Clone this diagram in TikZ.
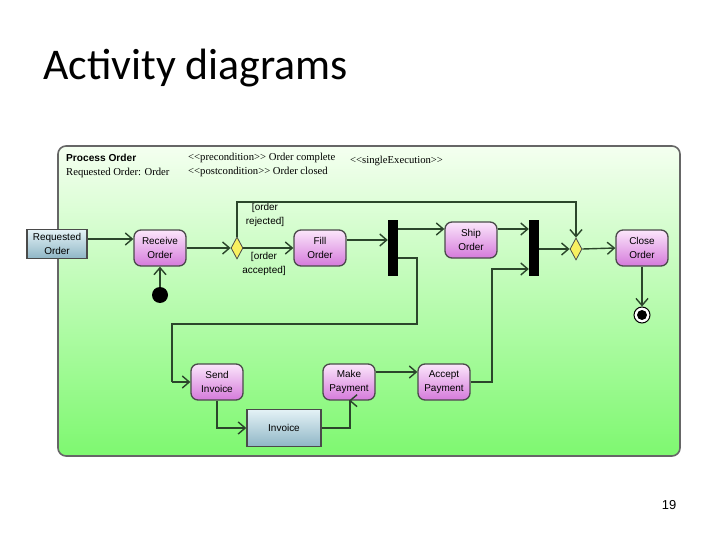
\documentclass[tikz,border=0pt]{standalone}
\usepackage{fontspec}
\setmainfont{Liberation Sans}
\newfontfamily\titlefont{Carlito}
\newfontfamily\hdrserif{Liberation Serif}
\usetikzlibrary{arrows.meta,shapes.geometric}
\definecolor{linec}{HTML}{2B462B}
\definecolor{nodeb}{HTML}{4A4A4A}
\definecolor{pinktop}{HTML}{FBE6FB}
\definecolor{pinkbot}{HTML}{D57ADB}
\definecolor{objtop}{HTML}{E4F2F6}
\definecolor{objbot}{HTML}{8FB6C6}
\definecolor{paneltop}{HTML}{F4FFF0}
\definecolor{panelbot}{HTML}{7EF870}
\definecolor{dyellow}{HTML}{F8F060}
\tikzset{
  act/.style={rounded corners=7bp, draw=nodeb, line width=1.3bp, top color=pinktop, bottom color=pinkbot,
    minimum width=52bp, minimum height=36bp, align=center, inner sep=1bp,
    font=\fontsize{10}{14}\selectfont},
  obj/.style={draw=nodeb, line width=1.5bp, top color=objtop, bottom color=objbot, align=center,
    inner sep=1bp, font=\fontsize{10}{14}\selectfont},
  bar/.style={fill=black, minimum width=10bp, minimum height=56bp, inner sep=0bp},
  dec/.style={diamond, draw=nodeb, line width=0.8bp, fill=dyellow, minimum width=12bp, minimum height=22bp, inner sep=0bp},
  flow/.style={draw=linec, line width=1.4bp, -{Straight Barb[length=7bp,width=12bp]}},
  guard/.style={align=center, font=\fontsize{10}{14}\selectfont, inner sep=0bp},
  hdr/.style={anchor=west, inner sep=0bp, font=\hdrserif\fontsize{10.7}{12}\selectfont},
}
\begin{document}
\begin{tikzpicture}[x=1bp,y=-1bp]
\useasboundingbox (0,0) rectangle (720,540);
\fill[white] (0,0) rectangle (720,540);
% title
\node[anchor=west, inner sep=0bp, font=\titlefont\fontsize{44}{48}\selectfont] (title) at (43,68) {Activity diagrams};
% panel
\draw[rounded corners=8bp, draw=gray!80!black, line width=1.6bp, top color=paneltop, bottom color=panelbot]
  (58,146) rectangle (680,456);
% header
\node[anchor=west, inner sep=0bp, font=\bfseries\fontsize{10.2}{12}\selectfont] (pname) at (66,158) {Process Order};
\node[hdr] (param) at (66,173) {Requested Order: Order};
\node[hdr] (pre) at (188,158) {<{}<precondition>{}> Order complete};
\node[hdr] (post) at (188,172) {<{}<postcondition>{}> Order closed};
\node[hdr] (single) at (350,161) {<{}<singleExecution>{}>};
% nodes
\node[obj, minimum width=60bp, minimum height=29bp] (req) at (57,244) {Requested\\Order};
\node[act] (recv) at (160,248) {Receive\\Order};
\node[circle, fill=black, minimum size=16bp, inner sep=0bp] (init) at (160,295) {};
\node[dec] (d1) at (237,248) {};
\node[act] (fill) at (320,248) {Fill\\Order};
\node[bar] (fork1) at (393,248) {};
\node[act] (ship) at (471,240) {Ship\\Order};
\node[bar] (fork2) at (534,248) {};
\node[dec] (d2) at (576,249) {};
\node[act] (close) at (642,248) {Close\\Order};
\node[circle, draw=black, fill=white, line width=1bp, minimum size=16bp, inner sep=0bp] (final) at (642,315) {};
\node[circle, fill=black, minimum size=10bp, inner sep=0bp] (finaldot) at (642,315) {};
\node[act] (send) at (217,382) {Send\\Invoice};
\node[act] (make) at (349,382) {Make\\Payment};
\node[act] (accept) at (444,382) {Accept\\Payment};
\node[obj, minimum width=74bp, minimum height=37bp] (inv) at (284,428) {Invoice};
\node[guard] (grej) at (265,215) {[order\\rejected]};
\node[guard] (gacc) at (264,264) {[order\\accepted]};
\node[inner sep=0bp, font=\fontsize{13}{15}\selectfont] (pageno) at (669,505) {19};
% coordinates
\coordinate (rj) at (0,202);
\coordinate (loopy) at (0,324);
\coordinate (loopx1) at (417,0);
\coordinate (loopx2) at (172,0);
\coordinate (accx) at (492,0);
\coordinate (invx) at (350,0);
% connectors
\draw[flow] ([yshift=5bp]req.east) -- ([yshift=5bp]req.east -| recv.west);
\draw[flow] (init) -- (recv.south);
\draw[flow] (recv.east) -- (d1.west);
\draw[flow] (d1.east) -- (fill.west);
\draw[flow] (d1.north) -- (d1.north |- rj) -- (d2.north |- rj) -- (d2.north);
\draw[flow] ([yshift=8bp]fill.east) -- ([yshift=8bp]fill.east -| fork1.west);
\draw[flow] ([yshift=11bp]ship.west -| fork1.east) -- ([yshift=11bp]ship.west);
\draw[draw=linec, line width=1.4bp] ([yshift=-10bp]fork1.east) -- ([yshift=-10bp]fork1.east -| loopx1) -- (loopx1 |- loopy) -- (loopx2 |- loopy) -- (loopx2 |- send.west);
\draw[flow] (loopx2 |- send.west) -- (send.west);
\draw[flow] ([yshift=11bp]ship.east) -- ([yshift=11bp]ship.east -| fork2.west);
\draw[flow] (accept.east) -- (accept.east -| accx) -- ([yshift=-21bp]accx |- fork2.west) -- ([yshift=-21bp]fork2.west);
\draw[flow] (fork2.east |- d2.west) -- (d2.west);
\draw[flow] (d2.east) -- (close.west);
\draw[flow] (close.south) -- (final.north);
\draw[flow] (send.south) -- (send.south |- inv.west) -- (inv.west);
\draw[flow] (inv.east) -- (inv.east -| invx) -- (invx |- make.south) -- (make.south);
\draw[flow] ([yshift=10bp]make.east) -- ([yshift=10bp]make.east -| accept.west);
\end{tikzpicture}
\end{document}
